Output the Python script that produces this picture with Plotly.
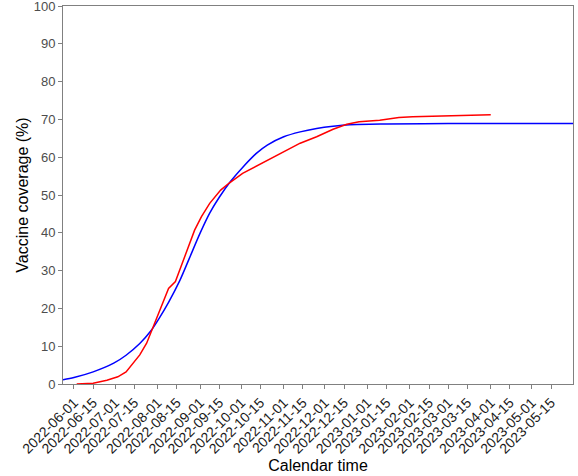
import plotly.graph_objects as go

blue_dates = ["2022-05-24", "2022-06-01", "2022-06-15", "2022-06-30", "2022-07-09", "2022-07-19",
              "2022-07-27", "2022-08-02", "2022-08-09", "2022-08-17", "2022-08-24", "2022-09-01",
              "2022-09-08", "2022-09-15", "2022-09-23", "2022-10-02", "2022-10-12", "2022-10-20",
              "2022-11-01", "2022-11-13", "2022-11-25", "2022-12-07", "2022-12-19", "2023-01-15",
              "2023-03-01", "2023-05-31"]
blue_values = [1.1, 1.7, 3.2, 5.5, 7.6, 10.7, 14.0, 17.3, 21.6, 27.2, 33.1, 39.9,
               45.2, 49.4, 53.5, 57.3, 61.0, 63.2, 65.4, 66.7, 67.6, 68.2, 68.6, 68.8,
               68.9, 68.9]

red_dates = ["2022-06-03", "2022-06-15", "2022-06-25", "2022-07-03", "2022-07-09", "2022-07-14",
             "2022-07-19", "2022-07-24", "2022-07-28", "2022-07-31", "2022-08-05", "2022-08-09",
             "2022-08-14", "2022-08-19", "2022-08-23", "2022-08-28", "2022-09-02", "2022-09-08",
             "2022-09-16", "2022-09-22", "2022-10-02", "2022-10-14", "2022-10-20", "2022-11-01",
             "2022-11-13", "2022-11-25", "2022-12-07", "2022-12-17", "2022-12-26", "2023-01-10",
             "2023-01-24", "2023-02-03", "2023-02-28", "2023-04-01"]
red_values = [0.0, 0.2, 1.0, 1.9, 3.2, 5.4, 7.7, 10.8, 14.3, 17.4, 21.8, 25.3,
              27.1, 31.9, 35.4, 40.7, 44.3, 47.8, 51.3, 53.1, 55.7, 58.0, 59.3, 61.5,
              63.7, 65.4, 67.4, 68.7, 69.4, 69.8, 70.5, 70.7, 71.0, 71.2]

tick_labels = ["2022-06-01", "2022-06-15", "2022-07-01", "2022-07-15", "2022-08-01", "2022-08-15",
               "2022-09-01", "2022-09-15", "2022-10-01", "2022-10-15", "2022-11-01", "2022-11-15",
               "2022-12-01", "2022-12-15", "2023-01-01", "2023-01-15", "2023-02-01", "2023-02-15",
               "2023-03-01", "2023-03-15", "2023-04-01", "2023-04-15", "2023-05-01", "2023-05-15"]
y_ticks = [0, 10, 20, 30, 40, 50, 60, 70, 80, 90, 100]

FONT = "Liberation Sans, Arial, sans-serif"

fig = go.Figure()
fig.add_trace(go.Scatter(x=blue_dates, y=blue_values, mode="lines",
                         line=dict(color="blue", width=1.5, shape="spline", smoothing=0.8), showlegend=False))
fig.add_trace(go.Scatter(x=red_dates, y=red_values, mode="lines",
                         line=dict(color="red", width=1.5), showlegend=False))

axis_common = dict(showline=True, linecolor="#808080", linewidth=1, mirror=True, showgrid=False, zeroline=False,
                   ticks="outside", tickcolor="#808080", ticklen=4, tickwidth=1, automargin=False,
                   ticklabeloverflow="allow")

fig.update_layout(
    width=578, height=476,
    margin=dict(l=63, r=5, t=6, b=92),
    paper_bgcolor="white", plot_bgcolor="white",
    xaxis=dict(range=["2022-05-24", "2023-05-31"], tickvals=tick_labels, ticktext=tick_labels, tickangle=-45,
               tickfont=dict(family=FONT, size=14, color="#1a1a1a"),
               title=dict(text="Calendar time", font=dict(family=FONT, size=16, color="black"), standoff=0),
               **axis_common),
    yaxis=dict(range=[0, 100], tickvals=y_ticks,
               tickfont=dict(family=FONT, size=13, color="#4d4d4d"),
               title=dict(text="Vaccine coverage (%)", font=dict(family=FONT, size=16, color="black"), standoff=1),
               **axis_common),
)
fig.write_html("out.html", config={"displayModeBar": False},
               post_script="document.body.style.margin='0';document.body.style.padding='0';")
